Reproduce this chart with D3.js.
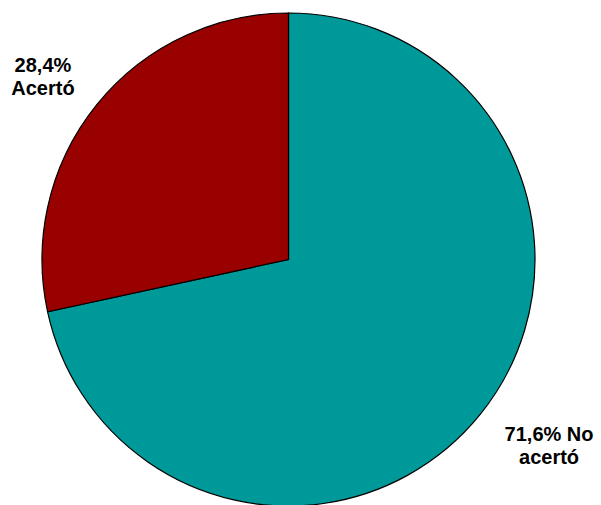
<!DOCTYPE html>
<html>
<head>
<meta charset="utf-8">
<script src="https://cdn.jsdelivr.net/npm/d3@7"></script>
<style>
  body { margin: 0; background: #fff; }
  .lbl { font-family: Arial, "Liberation Sans", sans-serif; font-weight: bold; font-size: 20px; fill: #000; }
</style>
</head>
<body>
<div class="pieChart"></div>
<script>
const WIDTH = 601;
const HEIGHT = 505;
const CX = 288.5;
const CY = 259.5;
const RADIUS = 246.5;

var categories = ["No acertó", "Acertó"];
var values = [71.6, 28.4];
var labelLines = [["71,6% No", "acertó"], ["28,4%", "Acertó"]];
var colors = ["#009999", "#990000"];

// nudge of each label away from its centroid, like Excel fitting them in the chart area
var labelNudge = [[13, -18], [2, 12]];

var svg = d3.select('.pieChart').append('svg')
    .attr('width', WIDTH)
    .attr('height', HEIGHT);

var g = svg.append('g')
    .attr('transform', 'translate(' + CX + ',' + CY + ')');

var pie = d3.pie().sort(null).value(function (d) { return d; });
var arcs = pie(values);

var arc = d3.arc().innerRadius(0).outerRadius(RADIUS);
var labelArc = d3.arc().innerRadius(318).outerRadius(318);

g.selectAll('path').data(arcs).enter().append('path')
    .attr('d', arc)
    .attr('fill', function (d, i) { return colors[i]; })
    .attr('stroke', '#000')
    .attr('stroke-width', 1.2);

var labels = g.selectAll('text').data(arcs).enter().append('text')
    .attr('class', 'lbl')
    .attr('text-anchor', 'middle')
    .attr('transform', function (d, i) {
        var c = labelArc.centroid(d);
        return 'translate(' + (c[0] + labelNudge[i][0]) + ',' + (c[1] + labelNudge[i][1]) + ')';
    });

labels.each(function (d, i) {
    var t = d3.select(this);
    labelLines[i].forEach(function (line, k) {
        t.append('tspan').attr('x', 0).attr('y', k * 23.3).text(line);
    });
});
</script>
</body>
</html>
